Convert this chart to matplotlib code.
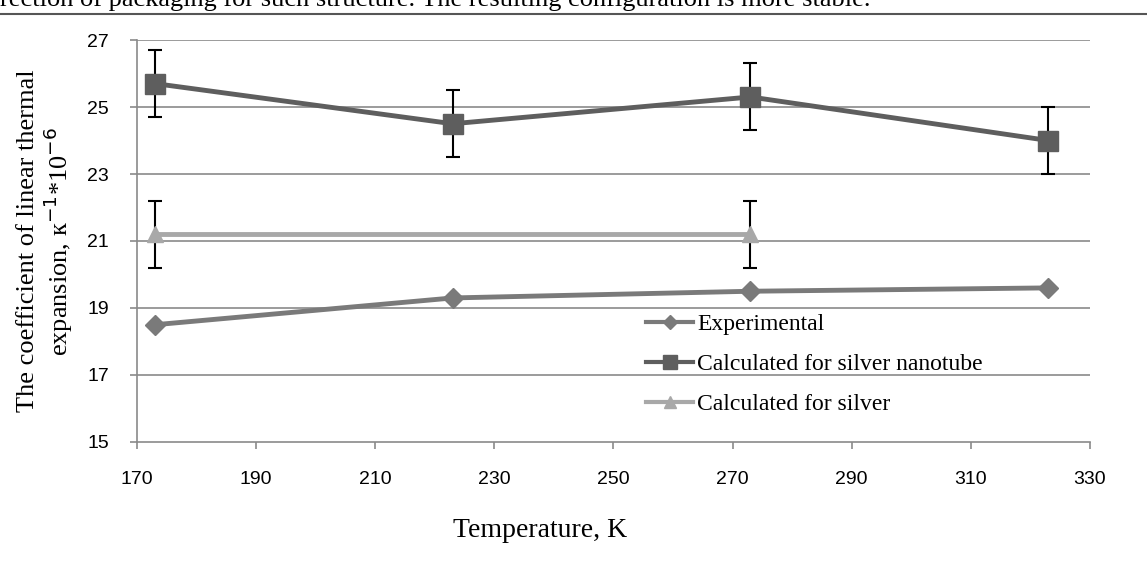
import matplotlib.pyplot as plt
from matplotlib.lines import Line2D

# data
temps = [173, 223, 273, 323]
experimental = [18.5, 19.3, 19.5, 19.6]
nanotube = [25.7, 24.5, 25.3, 24.0]
nanotube_err = [1.0, 1.0, 1.0, 1.0]
silver_t = [173, 273]
silver = [21.2, 21.2]
silver_err = [1.0, 1.0]

x_ticks = list(range(170, 331, 20))
y_ticks = list(range(15, 28, 2))
names = ['Experimental', 'Calculated for silver nanotube', 'Calculated for silver']

serif = ['Liberation Serif', 'DejaVu Serif']
sans = ['Liberation Sans', 'DejaVu Sans']

c_exp = '#7a7a7a'
c_nano = '#5e5e5e'
c_silv = '#a8a8a8'

fig = plt.figure(figsize=(11.47, 5.70), dpi=100)
ax = fig.add_axes([0.1194, 0.2246, 0.8309, 0.7052])

# header text cut at the top of the page
fig.text(0.0, 1.0, "rection of packaging for such structure. The resulting configuration is more stable.",
         family=serif, fontsize=19, va='center', ha='left')
fig.add_artist(Line2D([0, 1], [1 - 14/570, 1 - 14/570], color='#555555', lw=1.5))

for y in y_ticks[1:]:
    ax.axhline(y, color='#8a8a8a', lw=1.2, zorder=0)

ax.plot(temps, experimental, color=c_exp, lw=3.5, marker='D', ms=10, zorder=3)
ax.errorbar(temps, nanotube, yerr=nanotube_err, color=c_nano, lw=3.5, marker='s', ms=15,
            ecolor='black', elinewidth=1.5, capsize=5, capthick=1.5, zorder=3)
ax.errorbar(silver_t, silver, yerr=silver_err, color=c_silv, lw=3.5, marker='^', ms=11,
            ecolor='black', elinewidth=1.5, capsize=5, capthick=1.5, zorder=3)

ax.set_xlim(170, 330)
ax.set_ylim(15, 27)
ax.set_xticks(x_ticks)
ax.set_yticks(y_ticks)
ax.tick_params(axis='both', labelsize=14, color='#8a8a8a', length=5, width=1.2, direction='out')
ax.tick_params(axis='x', pad=16)
ax.tick_params(axis='y', pad=15)
for lab in ax.get_xticklabels() + ax.get_yticklabels():
    lab.set_family(sans)

for side in ['top', 'right']:
    ax.spines[side].set_visible(False)
for side in ['left', 'bottom']:
    ax.spines[side].set_color('#8a8a8a')
    ax.spines[side].set_linewidth(1.2)

ax.set_xlabel('Temperature, K', family=serif, fontsize=20)
ax.xaxis.label.set_va('center')
ax.xaxis.set_label_coords(0.423, -0.219)
ax.set_ylabel('The coefficient of linear thermal\nexpansion, к$^{-1}$*10$^{-6}$',
              family=serif, fontsize=19, linespacing=1.1)
ax.yaxis.label.set_va('center')
ax.yaxis.set_label_coords(-0.0955, 0.5)

handles = [
    Line2D([], [], color=c_exp, lw=3, marker='D', ms=7),
    Line2D([], [], color=c_nano, lw=3, marker='s', ms=10),
    Line2D([], [], color=c_silv, lw=3, marker='^', ms=8),
]
ax.legend(handles, names, loc='upper left', bbox_to_anchor=(0.512, 0.372), frameon=False,
          prop={'family': serif, 'size': 17}, handlelength=2.0, labelspacing=0.78,
          handletextpad=0.15)

fig.savefig('out.png', dpi=100)
